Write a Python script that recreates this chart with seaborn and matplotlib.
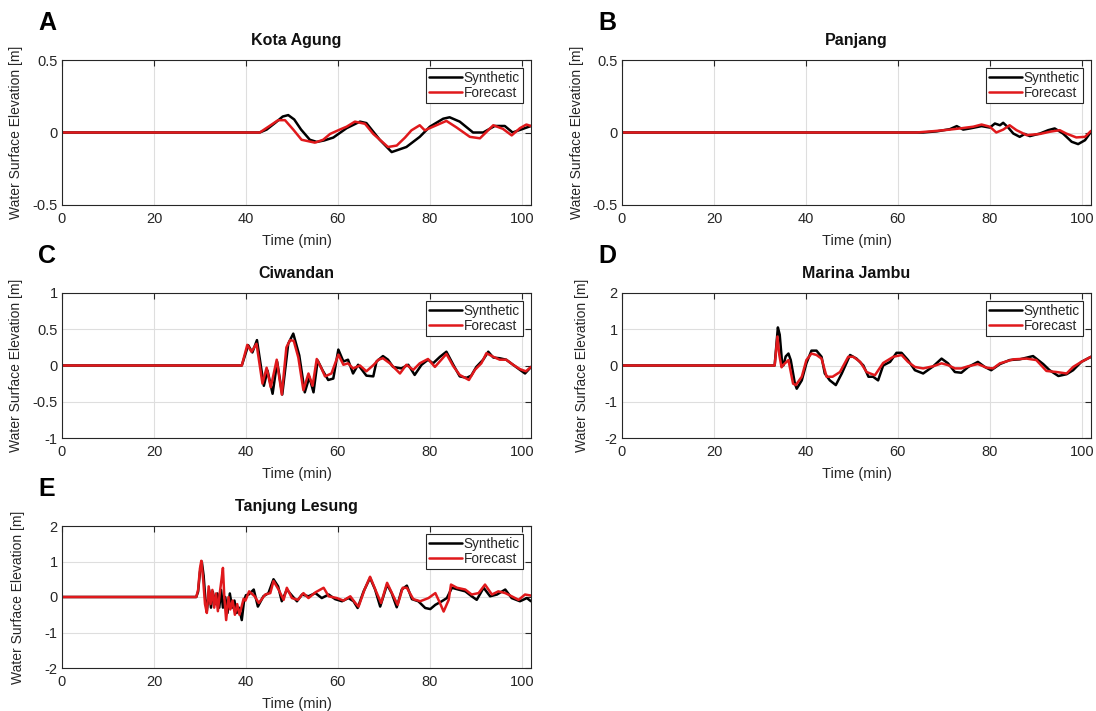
import numpy as np
import pandas as pd
import matplotlib
matplotlib.use("Agg")
import matplotlib.pyplot as plt
import seaborn as sns

# ---------------- data ----------------
stations = ["Kota Agung", "Panjang", "Ciwandan", "Marina Jambu", "Tanjung Lesung"]
panel_letters = ["A", "B", "C", "D", "E"]
series_names = ["Synthetic", "Forecast"]

x_ticks = [0, 20, 40, 60, 80, 100]
y_ticks_a = [-0.5, 0, 0.5]
y_ticks_c = [-1, -0.5, 0, 0.5, 1]
y_ticks_d = [-2, -1, 0, 1, 2]

# Kota Agung
a_syn_t = [0, 43.0, 44.5, 46.5, 48.0, 49.2, 50.5, 52.0, 53.9, 55.4, 57.0, 59.0, 61.9, 64.8, 66.2,
           69.1, 71.7, 74.9, 77.8, 80.0, 82.9, 84.3, 86.5, 89.4, 91.6, 94.1, 96.3, 98.0, 99.8, 102.0]
a_syn_v = [0, 0, 0.02, 0.07, 0.11, 0.12, 0.09, 0.02, -0.05, -0.065, -0.055, -0.035, 0.03, 0.075, 0.065,
           -0.05, -0.135, -0.10, -0.03, 0.04, 0.095, 0.105, 0.075, 0.0, 0.0, 0.045, 0.045, 0.0, 0.02, 0.045]
a_fc_t = [0, 43.0, 44.9, 47.0, 48.5, 50.3, 52.1, 55.0, 56.8, 58.3, 60.4, 61.9, 63.7, 65.9, 67.7, 70.9,
          72.8, 74.6, 76.0, 77.8, 78.9, 80.7, 83.6, 85.8, 88.7, 90.9, 93.8, 95.9, 97.8, 99.6, 101.0, 102.0]
a_fc_v = [0, 0, 0.04, 0.085, 0.085, 0.02, -0.05, -0.07, -0.05, -0.01, 0.02, 0.04, 0.075, 0.06, -0.01, -0.10,
          -0.09, -0.035, 0.015, 0.05, 0.015, 0.04, 0.08, 0.035, -0.03, -0.04, 0.05, 0.025, -0.02, 0.03, 0.055, 0.045]

# Panjang
b_syn_t = [0, 65.5, 68.5, 71.3, 72.8, 74.2, 75.7, 78.2, 80.0, 81.1, 82.2, 82.9, 84.0, 85.1, 86.5, 87.6,
           88.7, 90.9, 92.7, 94.1, 95.9, 97.8, 99.2, 100.7, 102.0]
b_syn_v = [0, 0, 0.008, 0.023, 0.044, 0.02, 0.028, 0.044, 0.034, 0.062, 0.05, 0.067, 0.034, -0.007, -0.03, -0.01,
           -0.025, -0.007, 0.016, 0.028, -0.007, -0.064, -0.08, -0.053, 0.005]
b_fc_t = [0, 64.0, 68.0, 71.3, 73.5, 74.9, 76.4, 78.2, 80.0, 81.4, 82.9, 84.3, 85.8, 88.0, 90.9, 93.0,
          95.2, 96.6, 98.8, 100.7, 102.0]
b_fc_v = [0, 0, 0.01, 0.02, 0.028, 0.034, 0.04, 0.055, 0.04, 0.0, 0.02, 0.05, 0.016, -0.018, -0.01, 0.005,
          0.016, -0.007, -0.034, -0.03, 0.011]

# Ciwandan
c_syn_t = [0, 39.1, 40.5, 41.4, 42.4, 43.9, 44.7, 45.8, 46.8, 47.9, 49.2, 50.3, 51.6, 52.8, 53.8, 54.7,
           55.6, 56.7, 57.9, 59.0, 60.1, 61.2, 62.2, 63.3, 64.4, 66.2, 67.7, 68.4, 69.8, 70.9, 72.0, 73.8,
           75.3, 76.7, 78.2, 79.6, 80.7, 82.2, 83.6, 85.1, 86.5, 88.0, 89.0, 90.1, 91.6, 92.7, 93.8, 95.2,
           96.6, 98.1, 99.6, 100.7, 102.0]
c_syn_v = [0, 0, 0.28, 0.18, 0.35, -0.28, -0.07, -0.39, 0.05, -0.40, 0.30, 0.44, 0.14, -0.37, -0.16, -0.37,
           0.07, -0.07, -0.20, -0.18, 0.22, 0.055, 0.08, -0.11, 0.01, -0.14, -0.15, 0.055, 0.13, 0.08, -0.02, -0.04,
           0.01, -0.13, 0.01, 0.08, 0.03, 0.12, 0.19, 0.01, -0.15, -0.17, -0.14, -0.02, 0.08, 0.19, 0.11, 0.10,
           0.08, 0.01, -0.06, -0.11, -0.02]
c_fc_t = [0, 39.1, 40.3, 41.2, 42.3, 43.6, 44.5, 45.4, 46.7, 47.8, 48.8, 49.6, 50.4, 51.4, 52.5, 53.6,
          54.5, 55.4, 56.5, 57.2, 58.6, 60.1, 61.2, 62.2, 63.3, 64.8, 66.2, 67.8, 68.8, 69.8, 71.3, 72.4,
          73.5, 74.9, 76.4, 77.8, 79.6, 81.1, 82.5, 83.6, 85.1, 86.5, 88.5, 89.8, 91.2, 92.3, 93.8, 95.2,
          96.6, 98.1, 99.6, 100.9, 102.0]
c_fc_v = [0, 0, 0.285, 0.19, 0.30, -0.25, -0.03, -0.30, 0.08, -0.40, 0.25, 0.35, 0.34, 0.11, -0.34, -0.11,
          -0.28, 0.09, -0.05, -0.15, -0.11, 0.15, 0.01, 0.03, -0.04, 0.0, -0.08, 0.01, 0.08, 0.10, 0.03, -0.04,
          -0.11, 0.01, -0.06, 0.03, 0.09, -0.02, 0.08, 0.16, -0.01, -0.13, -0.20, -0.06, 0.03, 0.17, 0.12, 0.08,
          0.08, 0.01, -0.05, -0.08, -0.02]

# Marina Jambu
d_syn_t = [0, 33.2, 33.6, 33.9, 34.3, 34.8, 35.1, 35.6, 36.2, 36.7, 37.6, 38.0, 39.1, 40.1, 41.2, 42.3,
           43.4, 44.1, 45.2, 46.5, 47.8, 49.6, 51.0, 52.5, 53.6, 54.6, 55.7, 56.8, 58.3, 59.7, 60.8, 62.2,
           63.7, 65.5, 67.7, 69.5, 70.9, 72.4, 73.8, 75.3, 77.4, 78.9, 80.3, 82.2, 84.3, 86.5, 89.4, 91.6,
           93.0, 94.9, 96.7, 98.1, 99.9, 102.0]
d_syn_v = [0, 0, 0.6, 1.05, 0.85, 0.1, 0.0, 0.25, 0.33, 0.15, -0.5, -0.64, -0.41, 0.06, 0.41, 0.41,
           0.24, -0.22, -0.41, -0.54, -0.22, 0.29, 0.19, 0.0, -0.31, -0.31, -0.41, 0.0, 0.10, 0.35, 0.35, 0.15,
           -0.13, -0.22, -0.02, 0.19, 0.06, -0.18, -0.20, -0.04, 0.10, -0.04, -0.13, 0.04, 0.15, 0.17, 0.26, 0.04,
           -0.13, -0.29, -0.24, -0.13, 0.10, 0.24]
d_fc_t = [0, 33.2, 33.5, 33.8, 34.2, 34.7, 35.1, 36.2, 37.2, 37.8, 39.1, 40.1, 41.2, 42.3, 43.4, 44.5,
          45.8, 47.4, 49.2, 50.3, 51.8, 53.2, 55.0, 56.8, 59.0, 60.8, 62.2, 63.7, 65.5, 67.7, 69.5, 70.9,
          72.4, 73.8, 75.3, 77.4, 79.3, 80.7, 82.2, 85.1, 88.0, 90.1, 92.3, 94.5, 96.7, 98.1, 99.9, 102.0]
d_fc_v = [0, 0, 0.4, 0.8, 0.3, -0.05, 0.02, 0.15, -0.5, -0.54, -0.31, 0.15, 0.33, 0.29, 0.19, -0.31,
          -0.31, -0.18, 0.24, 0.24, 0.10, -0.18, -0.27, 0.07, 0.24, 0.29, 0.10, -0.04, -0.08, -0.02, 0.06, 0.01,
          -0.08, -0.08, -0.02, 0.04, -0.06, -0.08, 0.06, 0.17, 0.19, 0.15, -0.15, -0.18, -0.22, -0.04, 0.10, 0.24]

# Tanjung Lesung
e_syn_t = [0, 29.2, 29.6, 30.0, 30.4, 30.8, 31.2, 31.5, 32.0, 32.4, 32.8, 33.3, 33.8, 34.2, 34.6, 35.0,
           35.5, 36.0, 36.5, 37.0, 37.5, 38.0, 38.5, 39.1, 39.6, 40.0, 40.6, 41.7, 42.6, 43.8, 44.9, 46.0,
           47.0, 47.8, 48.9, 50.0, 51.1, 52.2, 53.6, 55.1, 56.5, 58.0, 59.4, 60.9, 62.3, 63.4, 64.3, 65.6,
           67.0, 68.1, 69.2, 70.7, 71.7, 72.8, 73.9, 75.0, 76.1, 77.5, 79.0, 80.1, 81.2, 82.6, 83.7, 84.8,
           86.2, 87.7, 89.1, 90.2, 91.7, 93.1, 94.6, 96.4, 97.8, 99.6, 101.1, 102.0]
e_syn_v = [0, 0, 0.15, 0.7, 1.0, 0.6, -0.1, -0.4, 0.2, -0.3, 0.15, -0.2, 0.1, -0.3, 0.2, -0.3,
           0.0, -0.45, 0.1, -0.3, -0.1, -0.45, -0.3, -0.65, -0.1, 0.05, 0.07, 0.21, -0.27, 0.02, 0.11, 0.5,
           0.3, -0.12, 0.21, 0.04, -0.12, 0.07, 0.02, 0.11, -0.03, 0.07, -0.06, -0.12, -0.03, -0.12, -0.31, 0.16,
           0.54, 0.21, -0.27, 0.35, 0.11, -0.29, 0.21, 0.32, -0.06, -0.12, -0.31, -0.34, -0.22, -0.12, -0.03, 0.26,
           0.21, 0.16, 0.02, -0.08, 0.26, 0.02, 0.07, 0.21, -0.03, -0.12, -0.03, -0.12]
e_fc_t = [0, 29.2, 29.6, 30.0, 30.3, 30.7, 31.1, 31.5, 31.9, 32.3, 32.7, 33.1, 33.5, 33.9, 34.3, 34.7,
          35.0, 35.3, 35.7, 36.2, 36.6, 37.1, 37.6, 38.1, 38.6, 39.0, 39.5, 39.9, 40.7, 41.9, 42.8, 44.2,
          45.3, 46.0, 47.1, 48.2, 48.9, 50.0, 51.3, 52.5, 53.6, 55.1, 56.9, 58.0, 59.8, 61.2, 62.7, 63.8,
          64.5, 65.8, 67.0, 68.3, 69.4, 70.7, 71.9, 73.0, 74.1, 75.0, 76.4, 77.9, 79.7, 81.2, 82.2, 83.0,
          84.1, 84.6, 85.9, 87.7, 89.1, 90.6, 92.0, 93.5, 94.9, 96.4, 97.8, 99.3, 100.7, 102.0]
e_fc_v = [0, 0, 0.2, 0.8, 1.02, 0.5, -0.2, -0.45, 0.3, -0.2, 0.2, -0.3, 0.1, -0.4, 0.1, 0.5,
          0.82, 0.0, -0.65, 0.0, -0.35, -0.1, -0.5, -0.2, -0.5, -0.3, -0.05, -0.1, 0.16, 0.02, -0.17, 0.07,
          0.11, 0.45, 0.21, -0.08, 0.26, -0.03, -0.08, 0.11, -0.03, 0.13, 0.26, 0.02, -0.03, -0.10, 0.02, -0.17,
          -0.27, 0.21, 0.57, 0.16, -0.17, 0.40, 0.07, -0.22, 0.26, 0.26, -0.06, -0.12, -0.03, 0.11, -0.17, -0.41,
          -0.08, 0.35, 0.26, 0.21, 0.07, 0.11, 0.35, 0.07, 0.16, 0.11, 0.02, -0.08, 0.07, 0.04]

panel_data = [
    (a_syn_t, a_syn_v, a_fc_t, a_fc_v, y_ticks_a),
    (b_syn_t, b_syn_v, b_fc_t, b_fc_v, y_ticks_a),
    (c_syn_t, c_syn_v, c_fc_t, c_fc_v, y_ticks_c),
    (d_syn_t, d_syn_v, d_fc_t, d_fc_v, y_ticks_d),
    (e_syn_t, e_syn_v, e_fc_t, e_fc_v, y_ticks_d),
]

# ---------------- style ----------------
sns.set_theme(style="whitegrid")
plt.rcParams["font.family"] = ["Liberation Sans", "DejaVu Sans"]
plt.rcParams["xtick.direction"] = "in"
plt.rcParams["ytick.direction"] = "in"

W, H = 1096, 711
fig = plt.figure(figsize=(W / 100, H / 100), dpi=100)
fig.patch.set_facecolor("white")

# axes boxes in pixels: left, top, right, bottom
boxes = [
    (62, 60, 531, 205),
    (622, 60, 1091, 205),
    (62, 293, 531, 438),
    (622, 293, 1091, 438),
    (62, 526, 531, 668),
]
ylabel_x = [16, 577, 16, 582, 18]
palette = {"Synthetic": "#000000", "Forecast": "#e0191c"}
axis_col = "#262626"

for i, (box, pdata) in enumerate(zip(boxes, panel_data)):
    l, t, r, b = box
    ax = fig.add_axes([l / W, 1 - b / H, (r - l) / W, (b - t) / H])
    st, sv, ft, fv, yt = pdata
    df = pd.concat([
        pd.DataFrame({"Time": st, "Elev": sv, "Series": "Synthetic"}),
        pd.DataFrame({"Time": ft, "Elev": fv, "Series": "Forecast"}),
    ], ignore_index=True)
    sns.lineplot(data=df, x="Time", y="Elev", hue="Series", hue_order=series_names,
                 palette=palette, estimator=None, sort=False, linewidth=1.8, ax=ax, legend=False)
    ax.set_xlim(0, 102)
    ax.set_ylim(yt[0], yt[-1])
    ax.set_xticks(x_ticks)
    ax.set_yticks(yt)
    ax.set_yticklabels([f"{v:g}" for v in yt])
    ax.set_facecolor("white")
    ax.grid(True, color="#dedede", linewidth=0.8)
    for sp in ax.spines.values():
        sp.set_visible(True)
        sp.set_color(axis_col)
        sp.set_linewidth(0.8)
    ax.tick_params(axis="both", which="both", direction="in", length=4, width=0.8,
                   colors=axis_col, labelsize=10.5, top=True, right=True)
    ax.tick_params(axis="x", pad=5)
    ax.tick_params(axis="y", pad=3)
    ax.set_xlabel("Time (min)", fontsize=10.5, color=axis_col, labelpad=6)
    ax.set_ylabel("Water Surface Elevation [m]", fontsize=10, color=axis_col)
    ax.yaxis.label.set_va("center")
    ax.yaxis.set_label_coords((ylabel_x[i] - l) / (r - l), 0.5)
    ax.set_title(stations[i], fontsize=11.5, fontweight="bold", color="#111111", pad=11)
    lines = ax.get_lines()[:2]
    leg = ax.legend(lines, series_names, loc="upper right", fontsize=9.8, frameon=True,
                    fancybox=False, framealpha=1, edgecolor=axis_col, handlelength=2.4,
                    handletextpad=0.15, labelspacing=0.08, borderpad=0.22, borderaxespad=0.6)
    leg.get_frame().set_linewidth(0.8)
    fig.text((l - 15) / W, 1 - (t - 37) / H, panel_letters[i], fontsize=18, fontweight="bold",
             ha="center", va="center", color="#000000")

fig.savefig("out.png", dpi=100, facecolor="white")
